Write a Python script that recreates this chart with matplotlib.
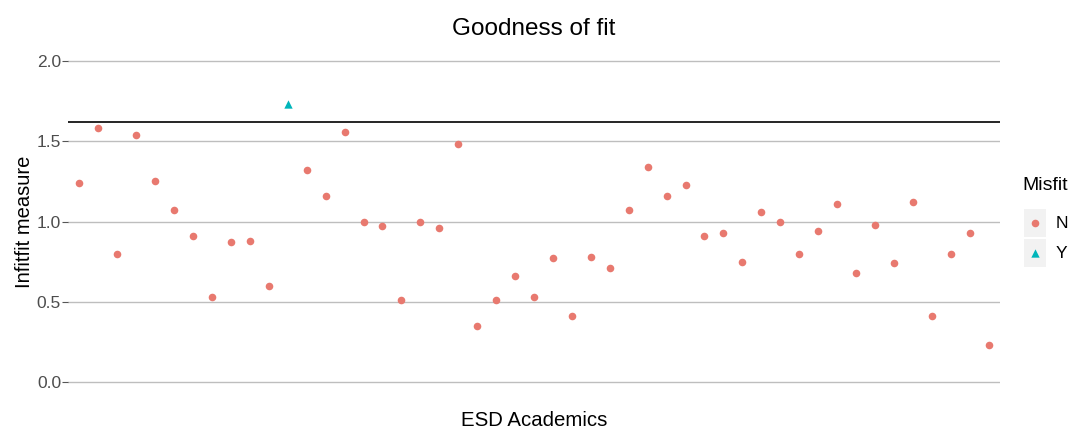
import numpy as np
import matplotlib.pyplot as plt
from matplotlib.patches import Rectangle

plt.rcParams["font.family"] = ["Liberation Sans", "DejaVu Sans"]

# Data
infit_n = [1.24, 1.58, 0.80, 1.54, 1.25, 1.07, 0.91, 0.53, 0.87, 0.88, 0.60,
           None,
           1.32, 1.16, 1.56, 1.00, 0.97, 0.51, 1.00, 0.96, 1.48, 0.35, 0.51,
           0.66, 0.53, 0.77, 0.41, 0.78, 0.71, 1.07, 1.34, 1.16, 1.23, 0.91,
           0.93, 0.75, 1.06, 1.00, 0.80, 0.94, 1.11, 0.68, 0.98, 0.74, 1.12,
           0.41, 0.80, 0.93, 0.23]
misfit = ["N"] * 49
misfit[11] = "Y"
infit_y = 1.73
cutoff = 1.62
y_ticks = [0.0, 0.5, 1.0, 1.5, 2.0]

values = [infit_y if m == "Y" else v for v, m in zip(infit_n, misfit)]
xpos = np.arange(1, len(values) + 1)

COL_N = "#E8796F"
COL_Y = "#00B5BA"

fig = plt.figure(figsize=(10.7, 4.3), dpi=100)
W, H = 1070, 430
ax = fig.add_axes([68 / W, 1 - 398 / H, (1000 - 68) / W, (398 - 45) / H])

for yt in y_ticks:
    ax.axhline(yt, color="#BEBEBE", lw=1.0, zorder=0)
ax.axhline(cutoff, color="black", lw=1.2, zorder=1)

n_mask = np.array([m == "N" for m in misfit])
ax.scatter(xpos[n_mask], np.array(values)[n_mask], s=30, color=COL_N,
           marker="o", linewidths=0, zorder=3)
ax.scatter(xpos[~n_mask], np.array(values)[~n_mask], s=36, color=COL_Y,
           marker="^", linewidths=0, zorder=3)

ax.set_xlim(0.4, len(values) + 0.6)
ax.set_ylim(-0.1, 2.1)
ax.set_yticks(y_ticks)
ax.set_yticklabels([f"{t:.1f}" for t in y_ticks])
ax.set_xticks([])
for s in ax.spines.values():
    s.set_visible(False)
ax.tick_params(axis="y", length=4, color="#555555", labelcolor="#4D4D4D",
               labelsize=12.5, pad=1)
ax.set_ylabel("Infitfit measure", fontsize=14.5, labelpad=2)
ax.set_title("Goodness of fit", fontsize=17.5, pad=7)
fig.text(534 / W, 1 - 421 / H, "ESD Academics", fontsize=14.7,
         ha="center", va="center")

# legend drawn by hand (ggplot style keys)
fig.text(1022 / W, 1 - 186 / H, "Misfit", fontsize=14, va="center", ha="left")
leg = fig.add_axes([1024 / W, 1 - 268 / H, 22 / W, 60 / H])
leg.set_xlim(0, 1)
leg.set_ylim(0, 2)
leg.axis("off")
for i in range(2):
    leg.add_patch(Rectangle((0, i + 0.03), 1, 0.94, color="#F2F2F2", lw=0))
leg.scatter([0.5], [1.5], s=30, color=COL_N, marker="o", linewidths=0)
leg.scatter([0.5], [0.5], s=36, color=COL_Y, marker="^", linewidths=0)
fig.text(1056 / W, 1 - 223 / H, "N", fontsize=12.5, va="center", ha="left")
fig.text(1056 / W, 1 - 253 / H, "Y", fontsize=12.5, va="center", ha="left")

fig.savefig("out.png", dpi=100)
